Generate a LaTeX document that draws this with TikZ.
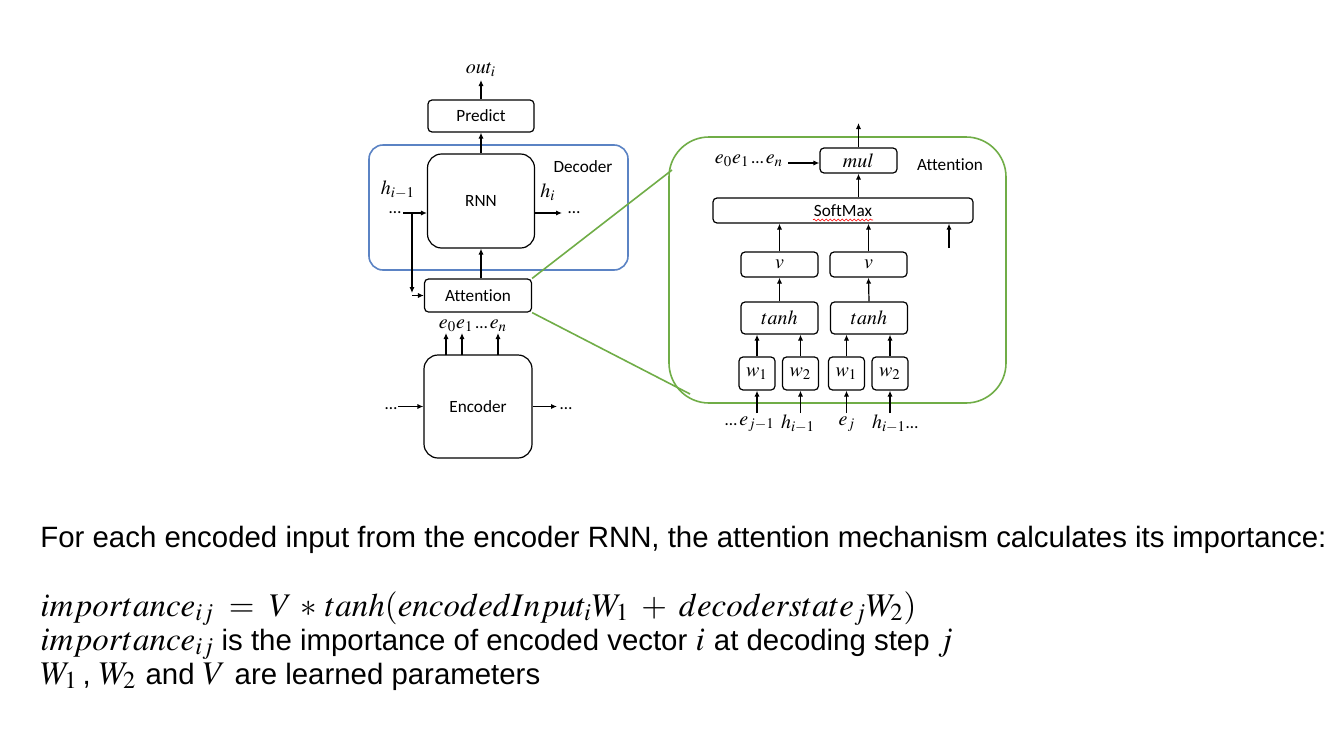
\documentclass[tikz,border=0pt]{standalone}
\usepackage{mathptmx}
\usepackage[no-math]{fontspec}
\setmainfont{Carlito}[Ligatures=NoCommon]
\newfontfamily\helv{Liberation Sans}
\usetikzlibrary{arrows.meta,decorations.pathmorphing}
\definecolor{decoderblue}{RGB}{91,131,196}
\definecolor{attgreen}{RGB}{112,173,71}
\newcommand\diagfont{\fontsize{8.6}{10}\selectfont}
\newcommand\symfont{\fontsize{10}{12}\selectfont}
\newcommand\bodyfont{\helv\fontsize{14.7}{17}\selectfont}
\newcommand\formfont{\fontsize{16.5}{19}\selectfont}
\newcommand\dotsin{\mbox{\diagfont\ldots}}
\tikzset{
  blk/.style={draw,rounded corners=2pt,line width=0.6pt,inner sep=0pt,font=\diagfont},
  bigblk/.style={blk,rounded corners=7pt},
  lbl/.style={inner sep=0pt,font=\symfont},
  arr/.style={-{Latex[length=3pt,width=2.6pt]},line width=0.6pt},
  zoomline/.style={attgreen,line width=0.8pt}
}

\begin{document}
\begin{tikzpicture}[x=0.5pt,y=-0.5pt]
\useasboundingbox[fill=white] (0,0) rectangle (1334,750);

\draw[decoderblue,line width=0.8pt,rounded corners=7pt] (369,145) rectangle (628,270);
\node[inner sep=0pt,font=\diagfont] (declabel) at (583,167) {Decoder};

\node[blk,minimum width=53pt,minimum height=16pt] (predict) at (481,116) {Predict};
\node[bigblk,minimum width=53.5pt,minimum height=47pt] (rnn) at (481,201) {RNN};
\node[blk,minimum width=53.5pt,minimum height=16.5pt] (attn) at (478,295.5) {Attention};
\node[bigblk,minimum width=54pt,minimum height=51.5pt] (enc) at (478,406.5) {Encoder};

\node[lbl] (out) at (481,70) {$out_i$};
\draw[arr] (predict.north) -- (out.south |- 0,80);
\draw[arr] (rnn.north) -- (predict.south);
\draw[arr] (attn.north -| rnn.south) -- (rnn.south);

\node[lbl] (hprev) at (398,190) {$h_{i-1}$};
\node[inner sep=0pt,font=\diagfont] (hdots) at (395,213) {\ldots};
\coordinate (hin) at (403,213);
\coordinate (hsplit) at (412,213);
\draw[arr] (hin) -- (hin -| rnn.west);
\draw[arr] (hsplit) -- (412,293);
\draw[arr] (hsplit |- attn.west) -- (attn.west);

\node[lbl] (hnext) at (548,192) {$h_i$};
\coordinate (hout) at (562,213);
\draw[arr] (hout -| rnn.east) -- (hout);
\node[inner sep=0pt,font=\diagfont] (houtdots) at (574,213) {\ldots};

\node[lbl] (elist) at (473,326) {$e_0e_1\,\dotsin\,e_n$};
\foreach \ex in {446,462,498}
  \draw[arr] (\ex,355) -- (\ex,333);

\node[inner sep=0pt,font=\diagfont] (enclin) at (391,409) {\ldots};
\draw[arr] (398,406.5) -- (enc.west);
\draw[arr] (enc.east) -- (557,406.5);
\node[inner sep=0pt,font=\diagfont] (enclout) at (566,409) {\ldots};

\draw[zoomline] (attn.north east) -- (672,170);
\draw[zoomline] (attn.south east) -- (690,394);
\draw[attgreen,line width=0.8pt,rounded corners=20pt] (669,137) rectangle (1006,403);

\node[blk,minimum width=38.5pt,minimum height=12.5pt,font=\symfont] (mul) at (858.5,160.5) {$mul$};
\draw[arr] (mul.north) -- (mul.north |- 0,123);
\node[lbl] (ectx) at (749,161) {$e_0e_1\,\dotsin\,e_n$};
\draw[arr] (788,163) -- (788,163 -| mul.west);
\node[inner sep=0pt,font=\diagfont] (attlabel) at (950,165) {Attention};

\node[blk,minimum width=130pt,minimum height=12.5pt] (softmax) at (843,210.5) {SoftMax};
\draw[red,line width=0.3pt,decorate,decoration={snake,amplitude=0.5pt,segment length=2pt}] (813,220) -- (873,220);
\draw[arr] (softmax.north -| mul.south) -- (mul.south);

\node[blk,minimum width=38.5pt,minimum height=12.5pt,font=\symfont] (v1) at (779.5,264.5) {$v$};
\node[blk,minimum width=38.5pt,minimum height=12.5pt,font=\symfont] (v2) at (868.5,264.5) {$v$};
\node[blk,minimum width=38.5pt,minimum height=16pt,font=\symfont] (tanh1) at (779.5,318) {$tanh$};
\node[blk,minimum width=38.5pt,minimum height=16pt,font=\symfont] (tanh2) at (869,318) {$tanh$};
\foreach \v in {v1,v2}
  \draw[arr] (\v.north) -- (\v.north |- softmax.south);
\coordinate (vmore) at (949,248);
\draw[arr] (vmore) -- (vmore |- softmax.south);
\draw[arr] (tanh1.north) -- (v1.south);
\draw[arr] (tanh2.north) -- (v2.south);

\node[blk,minimum width=18pt,minimum height=16.5pt,font=\symfont] (wa) at (757,373.5) {$w_1$};
\node[blk,minimum width=18pt,minimum height=16.5pt,font=\symfont] (wb) at (800.5,373.5) {$w_2$};
\node[blk,minimum width=18pt,minimum height=16.5pt,font=\symfont] (wc) at (846.5,373.5) {$w_1$};
\node[blk,minimum width=18pt,minimum height=16.5pt,font=\symfont] (wd) at (890,373.5) {$w_2$};
\foreach \w/\t in {wa/tanh1,wb/tanh1,wc/tanh2,wd/tanh2} {
  \draw[arr] (\w.north) -- (\w.north |- \t.south);
  \draw[arr] (\w.south |- 0,413) -- (\w.south);
}
\node[lbl] (inej) at (750,424) {$\dotsin\,e_{j-1}$};
\node[lbl] (inh) at (798,424) {$h_{i-1}$};
\node[lbl] (inecur) at (847,424) {$e_j$};
\node[lbl] (inhnext) at (895,424) {$h_{i-1}\dotsin$};

\node[anchor=base west,inner sep=0pt,font=\bodyfont] (intro) at (40,547)
  {For each encoded input from the encoder RNN, the attention mechanism calculates its importance:};
\node[anchor=base west,inner sep=0pt,font=\formfont] (formula) at (40,616)
  {$importance_{ij}\;=\;V\,\ast\,tanh(encodedInput_iW_1\;+\;decoderstate_jW_2)$};
\node[anchor=base west,inner sep=0pt] (explain) at (40,650)
  {\formfont$importance_{ij}$ \bodyfont is the importance of encoded vector \formfont$i$ \bodyfont at decoding step \formfont$j$};
\node[anchor=base west,inner sep=0pt] (params) at (40,684)
  {\formfont$W_1$\bodyfont\,, \formfont$W_2$ \bodyfont and \formfont$V$ \bodyfont are learned parameters};
\end{tikzpicture}
\end{document}
